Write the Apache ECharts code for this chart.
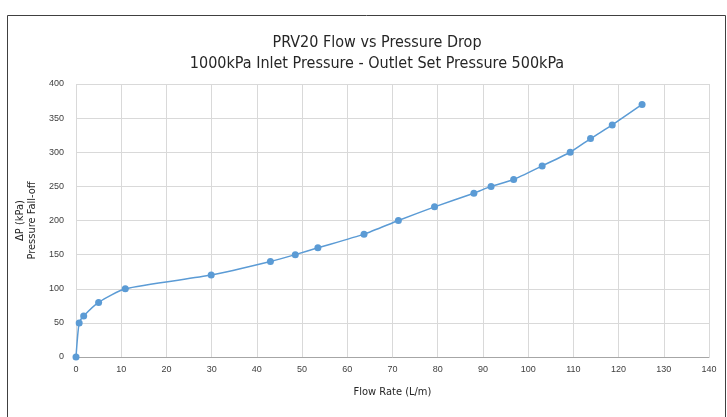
<!DOCTYPE html>
<html><head><meta charset="utf-8">
<script src="https://cdn.jsdelivr.net/npm/echarts@6/dist/echarts.min.js"></script>
<style>html,body{margin:0;padding:0;background:#fff}#c{width:727px;height:417px}</style>
</head><body><div id="c"></div>
<script>
var titleText = 'PRV20 Flow vs Pressure Drop';
var subtitleText = '1000kPa Inlet Pressure - Outlet Set Pressure 500kPa';
var xName = 'Flow Rate (L/m)';
var yName = 'ΔP (kPa)\nPressure Fall-off';
var flowRate = [0, 0.7, 1.7, 5, 10.9, 29.9, 43, 48.5, 53.5, 63.7, 71.3, 79.3, 88, 91.8, 96.8, 103.1, 109.3, 113.8, 118.6, 125.2];
var pressureDrop = [0, 50, 60, 80, 100, 120, 140, 150, 160, 180, 200, 220, 240, 250, 260, 280, 300, 320, 340, 370];
var points = flowRate.map(function (x, i) { return [x, pressureDrop[i]]; });
var font = '"Liberation Sans Narrow", "DejaVu Sans Condensed", sans-serif';
var chart = echarts.init(document.getElementById('c'));
chart.setOption({
  animation: false,
  graphic: [{ type: 'rect', shape: { x: 7.5, y: 15.5, width: 718, height: 420 }, style: { fill: 'none', stroke: '#404040', lineWidth: 1 } }],
  title: {
    text: titleText + '\n' + subtitleText,
    left: 372, top: 27, textAlign: 'center',
    textStyle: { fontFamily: font, fontSize: 16, fontWeight: 'normal', color: '#262626', lineHeight: 21 }
  },
  grid: { left: 76, right: 18, top: 84, bottom: 60 },
  xAxis: {
    type: 'value', min: 0, max: 140, interval: 10,
    name: xName, nameLocation: 'middle', nameGap: 30,
    nameTextStyle: { fontFamily: font, fontSize: 11, color: '#262626' },
    axisLine: { show: true, lineStyle: { color: '#a6a6a6' } },
    axisTick: { show: false },
    axisLabel: { fontFamily: 'Liberation Sans, sans-serif', fontSize: 9, color: '#404040', margin: 8 },
    splitLine: { show: true, lineStyle: { color: '#d9d9d9', width: 1 } }
  },
  yAxis: {
    type: 'value', min: 0, max: 400, interval: 50,
    name: yName, nameLocation: 'middle', nameGap: 31, nameRotate: 90,
    nameTextStyle: { fontFamily: font, fontSize: 11, color: '#262626', lineHeight: 12 },
    axisLine: { show: false },
    axisTick: { show: false },
    axisLabel: { fontFamily: 'Liberation Sans, sans-serif', fontSize: 9, color: '#404040', margin: 12 },
    splitLine: { show: true, lineStyle: { color: '#d9d9d9', width: 1 } }
  },
  series: [{
    type: 'line', data: points, smooth: 0.2,
    symbol: 'circle', symbolSize: 7,
    lineStyle: { color: '#5b9bd5', width: 1.5 },
    itemStyle: { color: '#5b9bd5' }
  }]
});
</script></body></html>
